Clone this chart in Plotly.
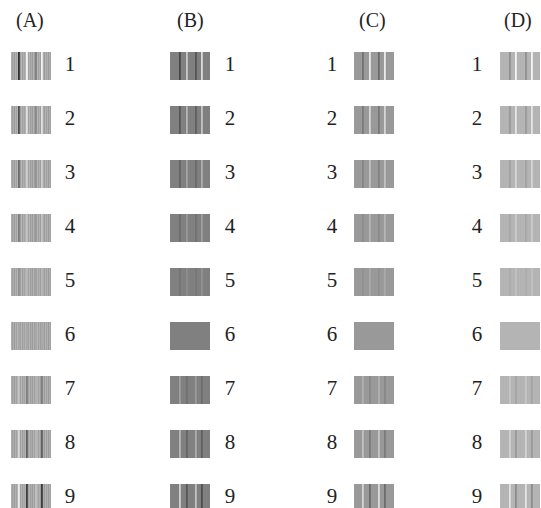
import numpy as np
import plotly.graph_objects as go

# --- data ---
columnas = ['(A)', '(B)', '(C)', '(D)']
filas = [1, 2, 3, 4, 5, 6, 7, 8, 9]

# intensity of the alignment lines per row (+ = dark/light, - = reversed)
amplitud = [1.0, 0.75, 0.5, 0.35, 0.2, 0.0, -0.35, -0.6, -0.9]

# base gray level of each block column
gris_base = [168, 128, 153, 180]
prof_oscura = [120, 55, 50, 45]     # how dark the dark lines get
alto_clara = [75, 90, 80, 65]       # how light the light lines get

# fine vertical texture (only pattern A has it strongly)
textura_a = [8, -10, 6, -14, 10, -6, 12, -12, 4, -8, 14, -10, 6, -4, 10, -14, 8, -6, 12, -10,
             4, -12, 10, -8, 6, -14, 12, -6, 8, -10, 14, -8, 4, -12, 10, -6, 8, -14, 6, -4]
textura_suave = [2, -1, 1, -2, 1, 0, -1, 2, -2, 1, 0, -1, 2, -1, 1, -2, 1, 0, -1, 2,
                 -2, 1, 0, -1, 2, -1, 1, -2, 1, 0, -1, 2, -2, 1, 0, -1, 2, -1, 1, -2]

# line positions inside each 40 px block: (dark, light, dark, light) and their strength
lineas = [[7, 15, 24, 30], [9, 16, 25, 31], [8, 15, 24, 30], [9, 15, 25, 31]]
peso_lineas = [[1.0, 1.0, 0.35, 1.0], [1.0, 0.8, 0.8, 1.0], [0.8, 1.0, 0.9, 1.0], [0.8, 1.0, 0.8, 1.0]]

# --- layout ---
inicio_bloque = [11, 170, 354, 500]
x_etiqueta = [70, 230, 332, 477]
x_titulo = [30, 190, 372, 518]
ANCHO = 40
PASO = 54
ALTO_BLOQUE = 28


def bloque(ci):
    tex = textura_a if ci == 0 else textura_suave
    z = []
    for a in amplitud:
        if ci == 0 or a != 0:
            fila = [gris_base[ci] + t for t in tex]
        else:
            fila = [gris_base[ci]] * ANCHO
        for k, p in enumerate(lineas[ci]):
            oscura = (k % 2 == 0)
            if a < 0:
                oscura = not oscura
            delta = -prof_oscura[ci] if oscura else alto_clara[ci]
            for dx in (0, 1):
                fila[p + dx] = gris_base[ci] + abs(a) * delta * peso_lineas[ci][k] * (1.0 if dx == 0 else 0.8)
        z.append([min(255, max(0, v)) for v in fila])
    return z


fig = go.Figure()
escala = [[0, 'black'], [1, 'white']]
for ci in range(4):
    fig.add_trace(go.Heatmap(
        z=bloque(ci),
        x0=inicio_bloque[ci] + 0.5, dx=1,
        y=filas,
        colorscale=escala, zmin=0, zmax=255,
        showscale=False, ygap=PASO - ALTO_BLOQUE,
        hoverinfo='skip'
    ))
    fig.add_trace(go.Scatter(
        x=[x_etiqueta[ci]] * len(filas), y=filas,
        mode='text', text=[str(f) for f in filas],
        textfont=dict(family='Liberation Serif', size=21, color='#222'),
        hoverinfo='skip', showlegend=False
    ))
    fig.add_annotation(
        x=x_titulo[ci], y=0.15, text=columnas[ci], showarrow=False,
        font=dict(family='Liberation Serif', size=20, color='#222')
    )

y_top = 1 - 66 / PASO
y_bot = 1 + (508 - 66) / PASO
fig.update_xaxes(range=[0, 541], visible=False, fixedrange=True)
fig.update_yaxes(range=[y_bot, y_top], visible=False, fixedrange=True)
fig.update_layout(
    width=541, height=508,
    margin=dict(l=0, r=0, t=0, b=0),
    plot_bgcolor='white', paper_bgcolor='white',
    showlegend=False
)
fig.write_html("out.html", config={'displayModeBar': False},
               post_script="document.body.style.margin='0px';")
